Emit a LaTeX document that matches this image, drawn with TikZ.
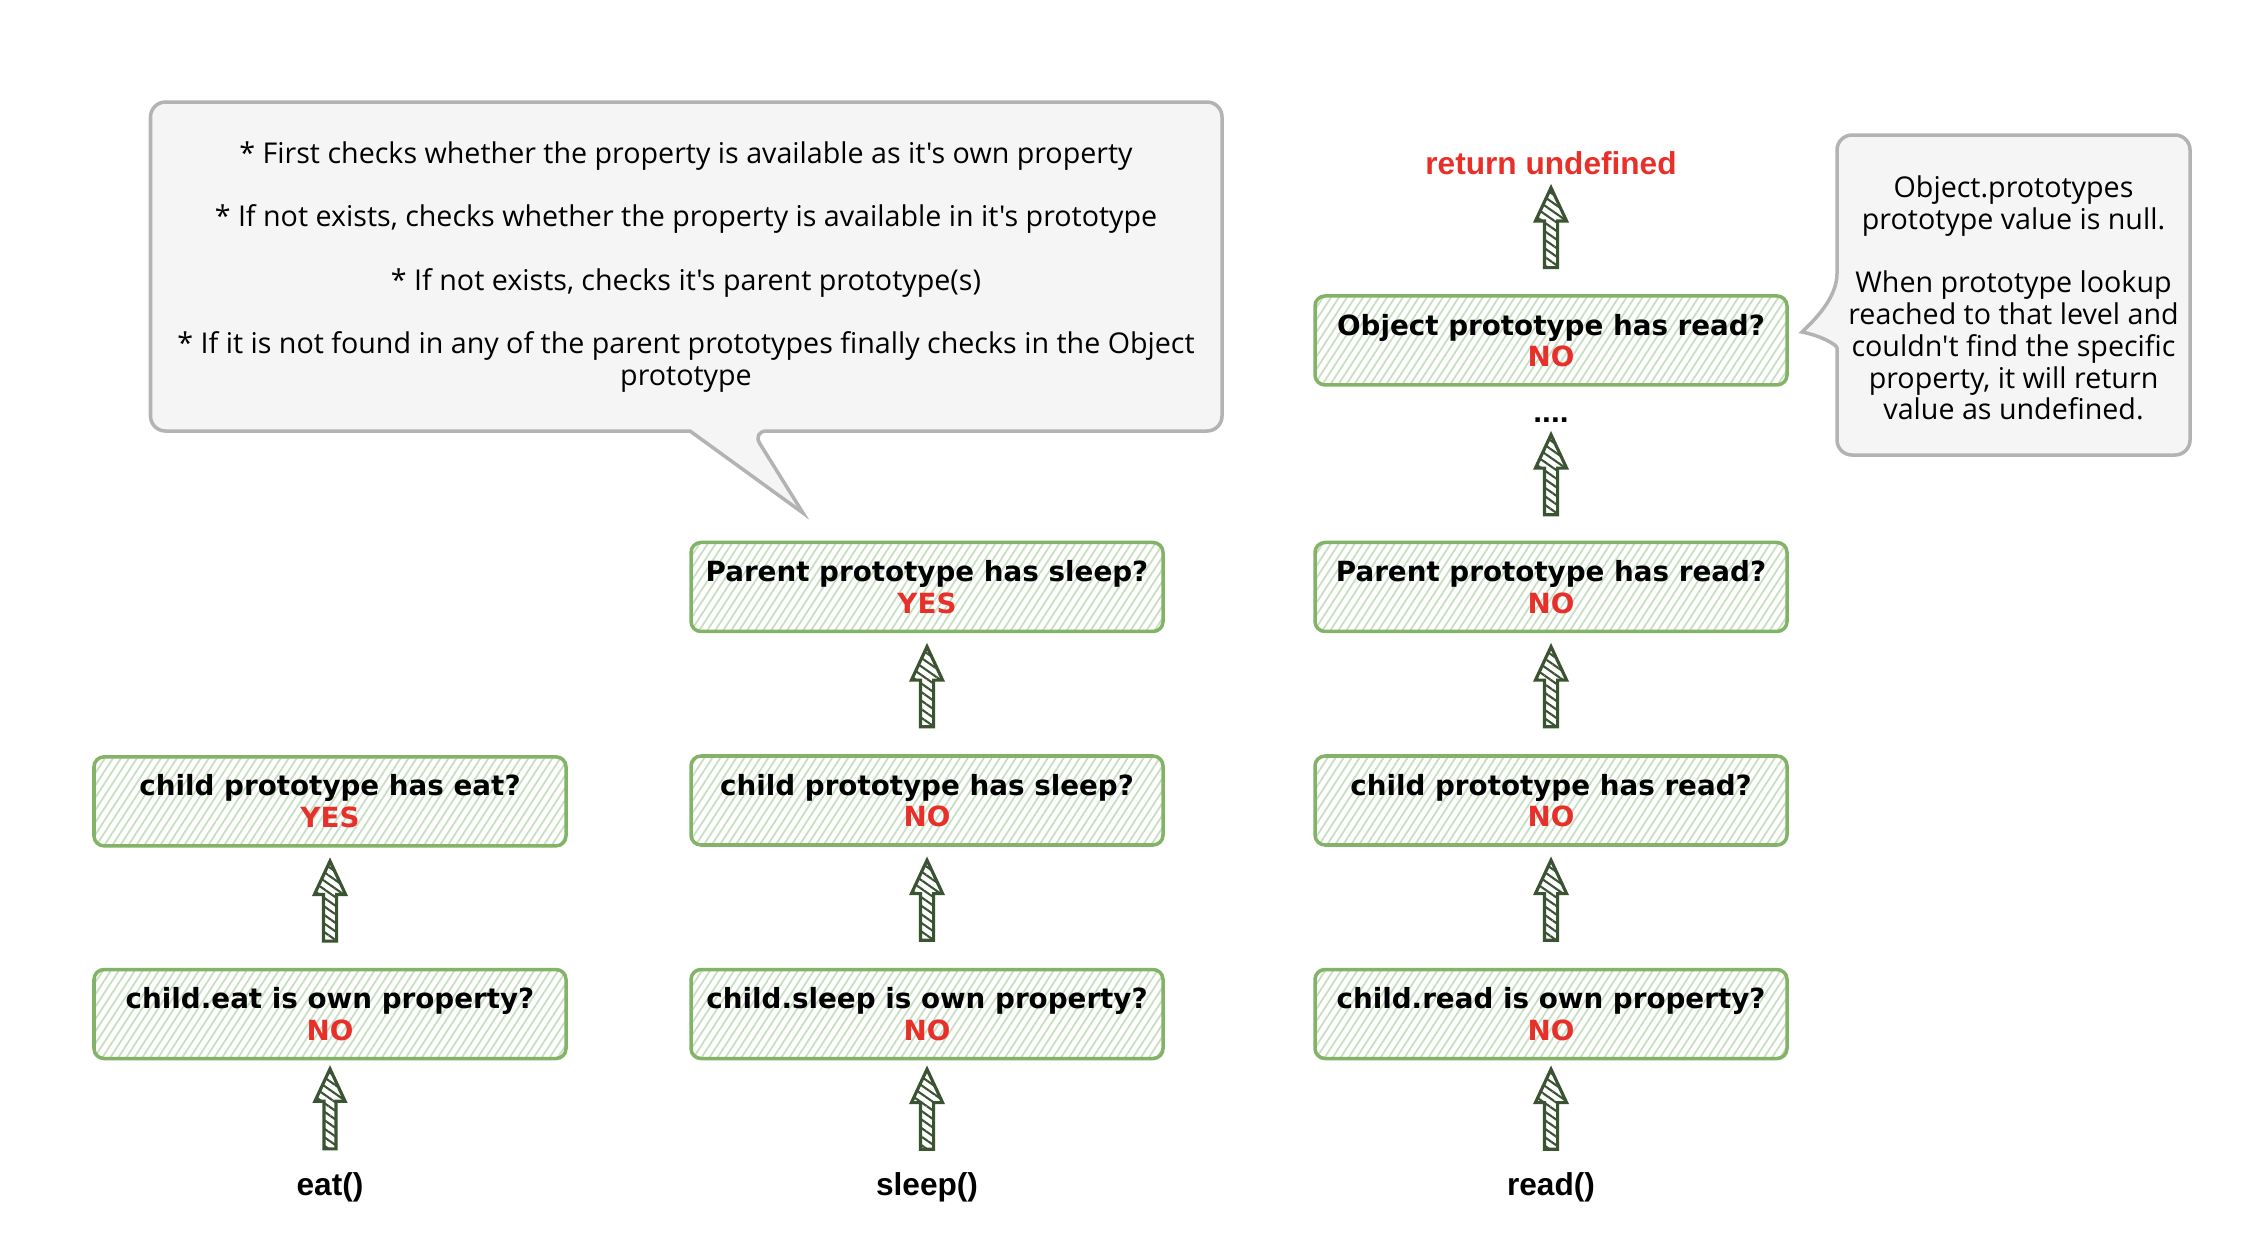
\documentclass[tikz,border=0pt]{standalone}
\usepackage{fontspec}
\setmainfont{DejaVu Sans}
\newfontfamily\labelfont{Liberation Sans}
\newfontfamily\notefont{Open Sans}
\usetikzlibrary{positioning, shapes.arrows, patterns.meta}

\definecolor{boxline}{HTML}{82B366}
\definecolor{hatch}{HTML}{C8DEC0}
\definecolor{answer}{HTML}{E8302A}
\definecolor{arrowdark}{HTML}{3A5431}
\definecolor{notefill}{HTML}{F5F5F5}
\definecolor{noteline}{HTML}{B3B3B3}

\newcommand{\ans}[1]{\\{\color{answer}#1}}

\begin{document}
\begin{tikzpicture}[
    node distance=1.21cm,
    check/.style={rectangle, rounded corners=0.1cm, draw=boxline, line width=1pt,
      pattern={Lines[angle=57, distance=0.067cm, line width=0.5pt]}, pattern color=hatch,
      minimum width=4.72cm, minimum height=0.89cm, align=center,
      font=\bfseries\fontsize{7.9}{9}\selectfont},
    call/.style={inner sep=0pt, font=\labelfont\bfseries\fontsize{9}{10.8}\selectfont},
    climb/.style={single arrow, rotate=90, draw=arrowdark, line width=0.9pt,
      pattern={Lines[angle=-35, distance=0.07cm, line width=0.6pt]}, pattern color=arrowdark,
      inner sep=0.05cm, minimum height=0.8cm, single arrow head extend=0.09cm,
      single arrow tip angle=50},
    bubble/.style={draw=noteline, fill=notefill, line width=1pt, rounded corners=0.15cm},
    bubbletext/.style={align=center, inner sep=0pt, font=\notefont\fontsize{8.15}{9.05}\selectfont}
  ]
    \fill[white] (0,0) rectangle (22.64,-12.52);
    \useasboundingbox (0,0) rectangle (22.64,-12.52);

    % Speech bubble with the lookup steps
    \draw[bubble] (1.505,-1.02) -- (12.22,-1.02) -- (12.22,-4.31) -- (7.52,-4.31)
      [sharp corners] -- (8.03,-5.13) -- (6.90,-4.31) [rounded corners=0.15cm] -- (1.505,-4.31) -- cycle;
    \node[bubbletext] (steps) at (6.86,-2.67) {%
      * First checks whether the property is available as it's own property\\[9pt]
      * If not exists, checks whether the property is available in it's prototype\\[9pt]
      * If not exists, checks it's parent prototype(s)\\[9pt]
      * If it is not found in any of the parent prototypes finally checks in the Object\\
      prototype};

    % Note at the right
    \draw[bubble] (18.37,-1.35) -- (21.90,-1.35) -- (21.90,-4.55) -- (18.37,-4.55) -- (18.37,-3.63)
      [sharp corners] .. controls (18.37,-3.45) and (18.22,-3.36) .. (18.02,-3.32)
      .. controls (18.2,-3.15) and (18.37,-2.95) .. (18.37,-2.73) [rounded corners=0.15cm] -- cycle;
    \node[bubbletext] (nullnote) at (20.135,-2.98) {%
      Object.prototypes\\
      prototype value is null.\\[9pt]
      When prototype lookup\\
      reached to that level and\\
      couldn't find the specific\\
      property, it will return\\
      value as undefined.};

    % Own property checks
    \node[check] (eatown) at (3.30,-10.14) {child.eat is own property?\ans{NO}};
    \node[check] (sleepown) at (9.27,-10.14) {child.sleep is own property?\ans{NO}};
    \node[check] (readown) at (15.51,-10.14) {child.read is own property?\ans{NO}};

    % Prototype checks
    \node[check, above=of eatown] (eatproto) {child prototype has eat?\ans{YES}};
    \node[check, above=of sleepown] (sleepproto) {child prototype has sleep?\ans{NO}};
    \node[check, above=of readown] (readproto) {child prototype has read?\ans{NO}};
    \node[check, above=of sleepproto] (sleepparent) {Parent prototype has sleep?\ans{YES}};
    \node[check, above=of readproto] (readparent) {Parent prototype has read?\ans{NO}};
    \node[check, above=1.54cm of readparent] (readobject) {Object prototype has read?\ans{NO}};

    % Calls and results
    \node[call, below=1.12cm of eatown] (eatcall) {eat()};
    \node[call, below=1.12cm of sleepown] (sleepcall) {sleep()};
    \node[call, below=1.12cm of readown] (readcall) {read()};
    \node[call, below=0.3cm of readobject] (more) {....};
    \node[call, text=answer, above=1.19cm of readobject] (undef) {return undefined};

    % Lookup arrows
    \foreach \from/\to in {eatcall/eatown, eatown/eatproto, sleepcall/sleepown,
        sleepown/sleepproto, sleepproto/sleepparent, readcall/readown, readown/readproto,
        readproto/readparent, readparent/more, readobject/undef}
      \path (\from.north) -- (\to.south) node[climb, midway] {};
  \end{tikzpicture}
\end{document}
